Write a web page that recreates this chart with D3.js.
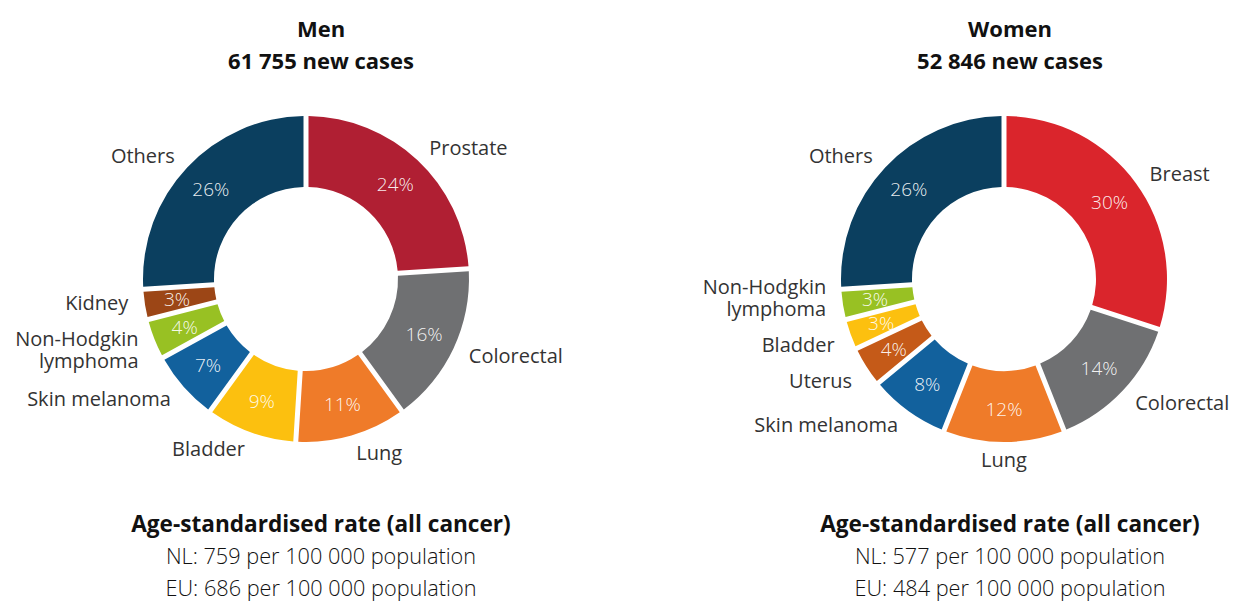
<!DOCTYPE html>
<html>
<head>
<meta charset="utf-8">
<script src="https://cdnjs.cloudflare.com/ajax/libs/d3/7.8.5/d3.min.js"></script>
<style>
	body { margin: 0; background: #fff; }
	svg text { font-family: "Open Sans", "Noto Sans", sans-serif; }
</style>
</head>
<body>
<svg id="chart" width="1233" height="601"></svg>
<script>

// data (share of new cases, %)
var menCategories = ["Prostate", "Colorectal", "Lung", "Bladder", "Skin melanoma", "Non-Hodgkin lymphoma", "Kidney", "Others"];
var menValues = [24, 16, 11, 9, 7, 4, 3, 26];

var womenCategories = ["Breast", "Colorectal", "Lung", "Skin melanoma", "Uterus", "Bladder", "Non-Hodgkin lymphoma", "Others"];
var womenValues = [30, 14, 12, 8, 4, 3, 3, 26];

var groupTitles = ["Men", "Women"];
var newCases = ["61 755", "52 846"];
var nlRates = ["759", "577"];
var euRates = ["686", "484"];

var colours = {
	"Prostate": "#b01f33",
	"Breast": "#da252c",
	"Colorectal": "#6f7072",
	"Lung": "#ef7b29",
	"Bladder": "#fcc00f",
	"Skin melanoma": "#12619d",
	"Non-Hodgkin lymphoma": "#98c123",
	"Kidney": "#9c4616",
	"Uterus": "#c55a18",
	"Others": "#0b3f5f"
};

var donut = function(){

	var outer = 163,
		inner = 92,
		labelRadius = 180,
		lineHeight = 22,
		labelPad = 14;

	function chart(selection){
		selection.each(function(data){

			var g = d3.select(this);
			var pie = d3.pie()
						.sort(null)
						.value(function(d){ return d.value; });
			var arc = d3.arc()
						.innerRadius(inner)
						.outerRadius(outer)
						.padRadius(100)
						.padAngle(0.05);
			var mid = d3.arc()
						.innerRadius((inner + outer) / 2 + 3)
						.outerRadius((inner + outer) / 2 + 3);

			var slices = pie(data);

			g.selectAll(".slice")
				.data(slices)
				.enter()
				.append("path")
				.attr("class", "slice")
				.attr("d", arc)
				.attr("fill", function(d){ return colours[d.data.name]; });

			g.selectAll(".pct")
				.data(slices)
				.enter()
				.append("text")
				.attr("class", "pct")
				.attr("transform", function(d){ return "translate(" + mid.centroid(d) + ")"; })
				.attr("text-anchor", "middle")
				.attr("dy", "0.35em")
				.attr("fill", "#fff")
				.attr("fill-opacity", 0.92)
				.style("font-size", "19px")
				.style("font-weight", 300)
				.text(function(d){ return d.data.value + "%"; });

			// label anchor points on a circle just outside the ring
			var spots = slices.map(function(d){
				var a = (d.startAngle + d.endAngle) / 2;
				var lines = d.data.name == "Non-Hodgkin lymphoma" ? ["Non-Hodgkin", "lymphoma"] : [d.data.name];
				return {
					d: d,
					lines: lines,
					x: labelRadius * Math.sin(a),
					y: -labelRadius * Math.cos(a),
					side: Math.abs(Math.sin(a)) < 0.1 ? "middle" : (Math.sin(a) > 0 ? "start" : "end")
				};
			});

			// push neighbouring labels apart on each side
			["start", "end"].forEach(function(side){
				var list = spots.filter(function(s){ return s.side == side; })
								.sort(function(a, b){ return a.y - b.y; });
				for (var k = 0; k < 20; k++){
					for (var i = 1; i < list.length; i++){
						var a = list[i - 1], b = list[i];
						var need = (a.lines.length + b.lines.length) * lineHeight / 2 + labelPad;
						var gap = b.y - a.y;
						if (gap < need){
							a.y -= (need - gap) / 2;
							b.y += (need - gap) / 2;
						}
					}
				}
			});

			var labels = g.selectAll(".lbl")
				.data(spots)
				.enter()
				.append("text")
				.attr("class", "lbl")
				.attr("fill", "#333")
				.style("font-size", "20px")
				.attr("text-anchor", function(s){ return s.side; })
				.attr("transform", function(s){ return "translate(" + s.x + "," + s.y + ")"; });

			labels.each(function(s){
				var t = d3.select(this);
				var first = (lineHeight * 0.35 - (s.lines.length - 1) * lineHeight / 2);
				s.lines.forEach(function(line, i){
					t.append("tspan")
						.attr("x", 0)
						.attr("y", first + i * lineHeight)
						.text(line);
				});
			});
		});
	}

	return chart;
};

var svg = d3.select("#chart");

var groups = [
	{ names: menCategories, values: menValues, cx: 306, textX: 321 },
	{ names: womenCategories, values: womenValues, cx: 1004, textX: 1010 }
];

groups.forEach(function(grp, i){

	var data = grp.names.map(function(n, j){ return { name: n, value: grp.values[j] }; });

	svg.append("g")
		.attr("transform", "translate(" + grp.cx + ",279)")
		.datum(data)
		.call(donut());

	var head = svg.append("text")
		.attr("text-anchor", "middle")
		.attr("fill", "#111")
		.style("font-size", "22px")
		.style("font-weight", 700);
	head.append("tspan").attr("x", grp.textX).attr("y", 37).text(groupTitles[i]);
	head.append("tspan").attr("x", grp.textX).attr("y", 69).text(newCases[i] + " new cases");

	var foot = svg.append("text")
		.attr("text-anchor", "middle")
		.attr("fill", "#111");
	foot.append("tspan").attr("x", grp.textX).attr("y", 532)
		.style("font-size", "22.6px").style("font-weight", 700)
		.text("Age-standardised rate (all cancer)");
	foot.append("tspan").attr("x", grp.textX).attr("y", 564)
		.style("font-size", "21.7px").style("font-weight", 300)
		.text("NL: " + nlRates[i] + " per 100 000 population");
	foot.append("tspan").attr("x", grp.textX).attr("y", 596)
		.style("font-size", "21.7px").style("font-weight", 300)
		.text("EU: " + euRates[i] + " per 100 000 population");
});

</script>
</body>
</html>
